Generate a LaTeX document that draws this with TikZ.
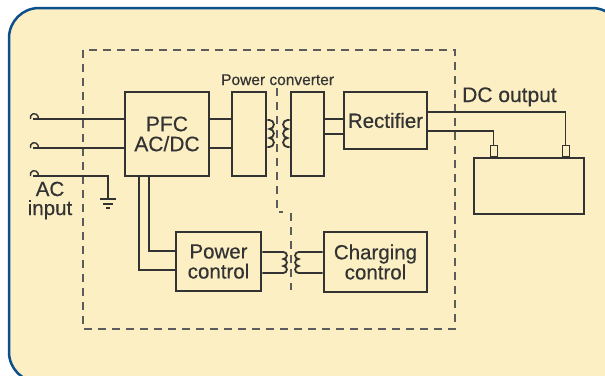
\documentclass[tikz,border=0pt]{standalone}
\usepackage{fontspec}
\setmainfont{Liberation Sans}[FakeBold=0.4]
\definecolor{paper}{HTML}{FCEFC3}
\definecolor{frameblue}{HTML}{0B4F8C}
\definecolor{ink}{HTML}{333333}
\begin{document}
\begin{tikzpicture}[x=1pt,y=-1pt,
  block/.style={draw=ink,line width=2.8pt,fill=paper,text=ink,align=center,inner sep=0pt,
    font=\fontsize{20.5}{20}\selectfont},
  wire/.style={draw=ink,line width=1.8pt},
  divider/.style={draw=ink!80,line width=1.2pt,dash pattern=on 8pt off 6pt},
  post/.style={draw=ink,line width=1pt,fill=paper,minimum width=7pt,minimum height=11pt,inner sep=0pt},
  tag/.style={text=ink,inner sep=0pt}]
\useasboundingbox (0,0) rectangle (605,375);
\def\coilr{4.5pt}
\def\coilR{arc[start angle=90,end angle=-90,radius=\coilr] arc[start angle=90,end angle=-90,radius=\coilr]
  arc[start angle=90,end angle=-90,radius=\coilr]}
\def\coilL{arc[start angle=90,end angle=270,radius=\coilr] arc[start angle=90,end angle=270,radius=\coilr]
  arc[start angle=90,end angle=270,radius=\coilr]}

\fill[paper] (9,8) [rounded corners=30pt] rectangle (622,382);
\draw[frameblue,line width=2.5pt,rounded corners=30pt] (9,8) rectangle (622,382);
\draw[divider] (83,50) rectangle (455,329); % charger housing
\draw[divider] (277,88) -- (277,212) -- (283,212) (291,213) -- (291,290); % isolation

\node[block,minimum width=84pt,minimum height=84pt,font=\fontsize{21}{20}\selectfont] (pfc) at (167,134) {PFC\\AC/DC};
\node[block,minimum width=34pt,minimum height=84pt] (pri) at (249,134) {};
\node[block,minimum width=33pt,minimum height=84pt] (sec) at (307.5,134) {};
\node[block,minimum width=83pt,minimum height=57pt] (rect) at (385.5,120.5) {Rectifier};
\node[block,minimum width=110pt,minimum height=56pt] (batt) at (529,186) {};
\node[block,minimum width=85pt,minimum height=59pt] (pwr) at (218.5,261.5) {Power\\control};
\node[block,minimum width=103pt,minimum height=60pt] (chg) at (375.5,262) {Charging\\control};
\node[post,anchor=south] (tp1) at (batt.north -| 493.5,0) {};
\node[post,anchor=south] (tp2) at (batt.north -| 565.5,0) {};

\node[tag,anchor=base west,font=\fontsize{15.5}{16}\selectfont] (convlbl) at (221,85) {Power converter};
\node[tag,anchor=base west,font=\fontsize{21}{21}\selectfont] (dclbl) at (462,102) {DC output};
\node[tag,align=center,font=\fontsize{20.5}{19}\selectfont] (aclbl) at (50,200.5) {AC\\input};

% mains plug
\coordinate (ac1) at (33,119);
\coordinate (ac2) at (33,148);
\coordinate (ac3) at (33,176);
\coordinate (gnd) at (108,199);
\foreach \p in {ac1,ac2,ac3}
  \draw[wire,line width=1.4pt] ([xshift=-2.5pt]\p) arc[start angle=200,end angle=-10,radius=4pt];
\draw[wire] (ac1) -- (ac1 -| pfc.west);
\draw[wire] (ac2) -- (ac2 -| pfc.west);
\draw[wire] (ac3) -| (gnd);
\draw[wire,line width=1.3pt] (gnd) ++(-8,0) -- ++(16,0) (gnd) ++(-5,5) -- ++(10,0) (gnd) ++(-2,9) -- ++(4,0);

% main path
\draw[wire] (pfc.east |- ac1) -- (pri.west |- ac1);
\draw[wire] (pfc.east |- ac2) -- (pri.west |- ac2);
\draw[wire] (pri.east |- 0,120) -- ++(2,0) \coilR -- (pri.east |- 0,147);
\draw[wire] (sec.west |- 0,120) -- ++(-2,0) \coilL -- (sec.west |- 0,147);
\draw[wire] (sec.east |- 0,119) -- (rect.west |- 0,119);
\draw[wire] (sec.east |- 0,134) -- (rect.west |- 0,134);
\draw[wire] (rect.east |- 0,112) -| (tp2.north);
\draw[wire] (rect.east |- 0,131) -| (tp1.north);

% control path
\def\coilr{3.5pt}
\draw[wire] (pfc.south -| 149,0) |- (pwr.west |- 0,251);
\draw[wire] (pfc.south -| 139,0) |- (pwr.west |- 0,270);
\draw[wire] (pwr.east |- 0,252) -- ++(21,0) \coilR -- (pwr.east |- 0,273);
\draw[wire] (chg.west |- 0,252) -- ++(-24,0) \coilL -- (chg.west |- 0,273);
\end{tikzpicture}
\end{document}
